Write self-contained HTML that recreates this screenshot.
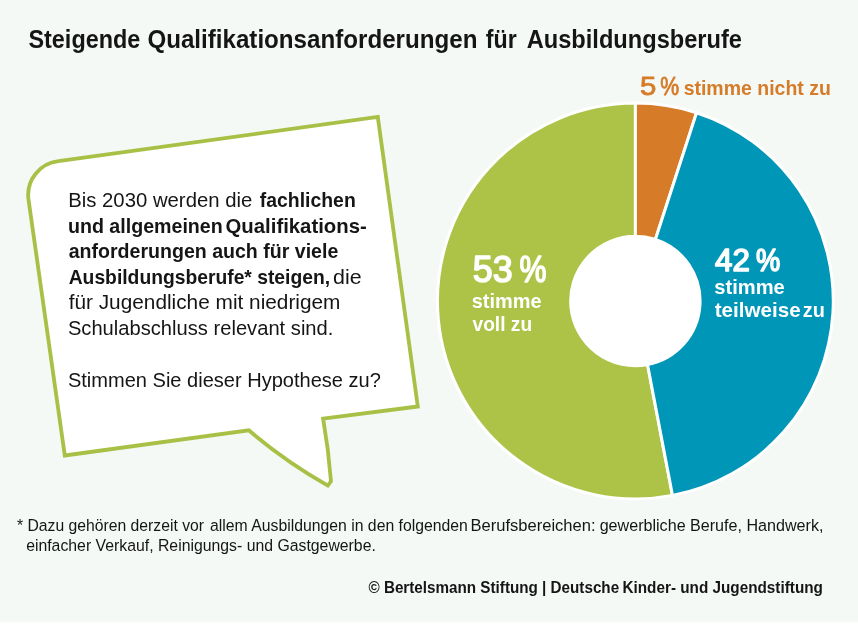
<!DOCTYPE html>
<html lang="de">
<head>
<meta charset="utf-8">
<title>Steigende Qualifikationsanforderungen für Ausbildungsberufe</title>
<style>
html,body{margin:0;padding:0;background:#f4f9f6;}
body{width:858px;height:625px;overflow:hidden;}
svg{display:block;}
text{font-family:"Liberation Sans",sans-serif;}
.b{font-weight:bold;}
.k{fill:#151515;}
.w{fill:#fff;}
.o{fill:#d67b27;}
.sb{font-weight:normal;stroke:#d67b27;stroke-width:0.8px;stroke-linejoin:round;}
.sb2{font-weight:normal;stroke:#fff;stroke-width:1.6px;stroke-linejoin:round;}
</style>
</head>
<body>
<svg width="858" height="625" viewBox="0 0 858 625">
<defs><linearGradient id="fade" x1="0" y1="0" x2="0" y2="1"><stop offset="0" stop-color="#f4f9f6"/><stop offset="0.6" stop-color="#fff"/><stop offset="1" stop-color="#fff"/></linearGradient></defs>
<rect width="858" height="625" fill="#f4f9f6"/>
<rect x="0" y="621" width="858" height="4" fill="url(#fade)"/>

<g font-size="25.5" class="b k">
<text x="28.45" y="47.8" textLength="111.9" lengthAdjust="spacingAndGlyphs">Steigende</text>
<text x="147.4" y="47.8" textLength="330.0" lengthAdjust="spacingAndGlyphs">Qualifikationsanforderungen</text>
<text x="485.85" y="47.8" textLength="30.9" lengthAdjust="spacingAndGlyphs">für</text>
<text x="526.7" y="47.8" textLength="215.3" lengthAdjust="spacingAndGlyphs">Ausbildungsberufe</text>
</g>
<path d="M58.4,161.2 L377.8,116.9 L417.8,406.5 L323.1,418.7 Q328.6,449.7 331,481.3 L327.9,485.6 Q285.3,461.4 248.8,430.3 L64.8,455.5 L28.4,198.7 A34,34 0 0 1 58.4,161.2 Z" fill="#fff" stroke="#a9c046" stroke-width="3.8" stroke-linejoin="miter" stroke-miterlimit="2"/>
<g font-size="19.9" class="k">
<text x="68.15" y="207.3" textLength="184.2" lengthAdjust="spacingAndGlyphs">Bis 2030 werden die</text>
<text class="b" x="259.85" y="207.3" textLength="95.9" lengthAdjust="spacingAndGlyphs">fachlichen</text>
<text class="b" x="67.95" y="232.8" textLength="154.8" lengthAdjust="spacingAndGlyphs">und allgemeinen</text>
<text class="b" x="225.55" y="232.8" textLength="141.2" lengthAdjust="spacingAndGlyphs">Qualifikations-</text>
<text class="b" x="68.7" y="258.3" textLength="269.6" lengthAdjust="spacingAndGlyphs">anforderungen auch für viele</text>
<text class="b" x="68.7" y="283.8" textLength="261.4" lengthAdjust="spacingAndGlyphs">Ausbildungsberufe* steigen,</text>
<text x="333.0" y="283.8" textLength="28.6" lengthAdjust="spacingAndGlyphs">die</text>
<text x="68.65" y="309.3" textLength="271.8" lengthAdjust="spacingAndGlyphs">für Jugendliche mit niedrigem</text>
<text x="67.9" y="334.8" textLength="265.5" lengthAdjust="spacingAndGlyphs">Schulabschluss relevant sind.</text>
<text x="67.9" y="387.0" textLength="313.0" lengthAdjust="spacingAndGlyphs">Stimmen Sie dieser Hypothese zu?</text>
</g>
<circle cx="635.4" cy="301" r="64.7" fill="#fff"/>
<g stroke="#fff" stroke-width="3" stroke-linejoin="round">
<path d="M672.48,495.39 A197.9,197.9 0 1 1 635.40,103.10 L635.40,236.30 A64.7,64.7 0 1 0 647.52,364.55 Z" fill="#adc347"/>
<path d="M635.40,103.10 A197.9,197.9 0 0 1 696.55,112.79 L655.39,239.47 A64.7,64.7 0 0 0 635.40,236.30 Z" fill="#d67b27"/>
<path d="M696.55,112.79 A197.9,197.9 0 0 1 672.48,495.39 L647.52,364.55 A64.7,64.7 0 0 0 655.39,239.47 Z" fill="#0096b7"/>
</g>
<g class="b o">
<text class="sb" x="640.05" y="95.1" textLength="16.3" lengthAdjust="spacingAndGlyphs" font-size="25.2">5</text>
<text class="sb" x="660.3" y="95.1" textLength="18.9" lengthAdjust="spacingAndGlyphs" font-size="25.2">%</text>
<text x="683.65" y="95.0" textLength="147.2" lengthAdjust="spacingAndGlyphs" font-size="21">stimme nicht zu</text>
</g>
<g class="b w">
<text class="sb2" x="472.85" y="281.6" textLength="39.9" lengthAdjust="spacingAndGlyphs" font-size="37">53</text>
<text class="sb2" x="519.5" y="281.6" textLength="27.0" lengthAdjust="spacingAndGlyphs" font-size="37">%</text>
<text x="471.75" y="307.8" textLength="69.8" lengthAdjust="spacingAndGlyphs" font-size="21">stimme</text>
<text x="472.5" y="330.6" textLength="59.6" lengthAdjust="spacingAndGlyphs" font-size="21">voll zu</text>
<text class="sb2" x="715.0" y="270.5" textLength="34.8" lengthAdjust="spacingAndGlyphs" font-size="31.5">42</text>
<text class="sb2" x="756.05" y="270.5" textLength="24.2" lengthAdjust="spacingAndGlyphs" font-size="31.5">%</text>
<text x="714.25" y="293.8" textLength="70.5" lengthAdjust="spacingAndGlyphs" font-size="21">stimme</text>
<text x="714.75" y="316.8" textLength="85.9" lengthAdjust="spacingAndGlyphs" font-size="21">teilweise</text>
<text x="802.85" y="316.8" textLength="22.1" lengthAdjust="spacingAndGlyphs" font-size="21">zu</text>
</g>
<g font-size="16.3" class="k">
<text x="16.95" y="531.2" textLength="187.1" lengthAdjust="spacingAndGlyphs">* Dazu gehören derzeit vor</text>
<text x="210.05" y="531.2" textLength="257.8" lengthAdjust="spacingAndGlyphs">allem Ausbildungen in den folgenden</text>
<text x="470.45" y="531.2" textLength="125.1" lengthAdjust="spacingAndGlyphs">Berufsbereichen:</text>
<text x="599.65" y="531.2" textLength="223.8" lengthAdjust="spacingAndGlyphs">gewerbliche Berufe, Handwerk,</text>
<text x="26.15" y="551.2" textLength="349.7" lengthAdjust="spacingAndGlyphs">einfacher Verkauf, Reinigungs- und Gastgewerbe.</text>
<text class="b" x="368.45" y="592.9" textLength="250.7" lengthAdjust="spacingAndGlyphs">© Bertelsmann Stiftung | Deutsche</text>
<text class="b" x="622.5" y="592.9" textLength="200.4" lengthAdjust="spacingAndGlyphs">Kinder- und Jugendstiftung</text>
</g>
</svg>
</body>
</html>
